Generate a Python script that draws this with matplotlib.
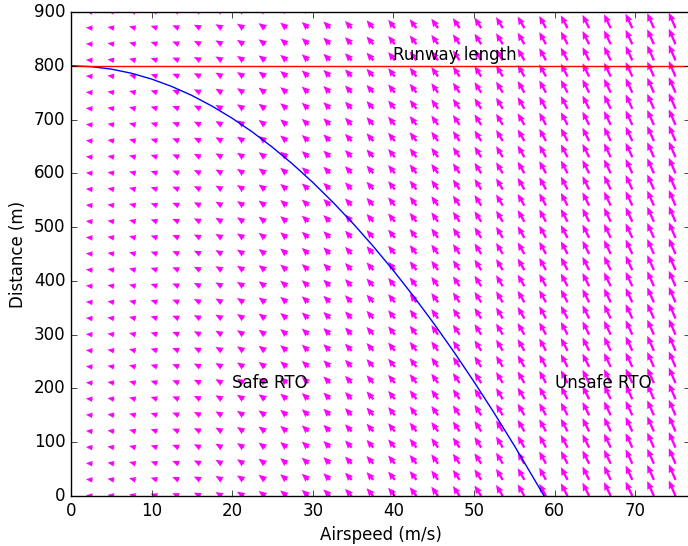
import numpy as np
import matplotlib
matplotlib.use('Agg')
from matplotlib import pyplot as plt

# arrow grid (airspeed m/s, distance m)
grid_speed = np.linspace(0, 75, 29)
grid_dist = np.linspace(0, 900, 31)
decel = 2.16  # braking deceleration, m/s^2

# stopping boundary
curve_speed = [0, 2.5, 5, 7.5, 10, 12.5, 15, 17.5, 20, 22.5, 25, 27.5, 30,
               32.5, 35, 37.5, 40, 42.5, 45, 47.5, 50, 52.5, 55, 57.5, 58.7]
curve_dist = [800, 798.4, 793.8, 786.1, 775.3, 761.5, 744.8, 725.0, 702.4,
              676.9, 648.4, 617.2, 583.1, 546.2, 506.6, 464.3, 419.2, 371.5,
              321.1, 268.1, 212.5, 154.3, 93.7, 30.5, 0]

runway_length = 800

plt.style.use('classic')
fig = plt.figure(figsize=(6.88, 5.46), dpi=100, facecolor='white')
ax = fig.add_axes([71 / 688, 50 / 546, 619 / 688, 484 / 546])

V, X = np.meshgrid(grid_speed, grid_dist)
U = -decel * np.ones_like(V)
W = V
ax.quiver(V, X, U, W, color='magenta', angles='xy', scale_units='xy',
          scale=2.6, width=0.0038, headwidth=3, headlength=3.5,
          headaxislength=3.2, edgecolor='none')

ax.plot(curve_speed, curve_dist, 'b-')
ax.axhline(runway_length, color='r')

ax.text(40, 810, 'Runway length', fontsize=12)
ax.text(20, 200, 'Safe RTO', fontsize=12)
ax.text(60, 200, 'Unsafe RTO', fontsize=12)

ax.set_xlim(0, 76.8)
ax.set_ylim(0, 900)
ax.set_xticks([0, 10, 20, 30, 40, 50, 60, 70])
ax.set_xlabel('Airspeed (m/s)')
ax.set_ylabel('Distance (m)')

fig.savefig('out.png', dpi=100, facecolor='white')
